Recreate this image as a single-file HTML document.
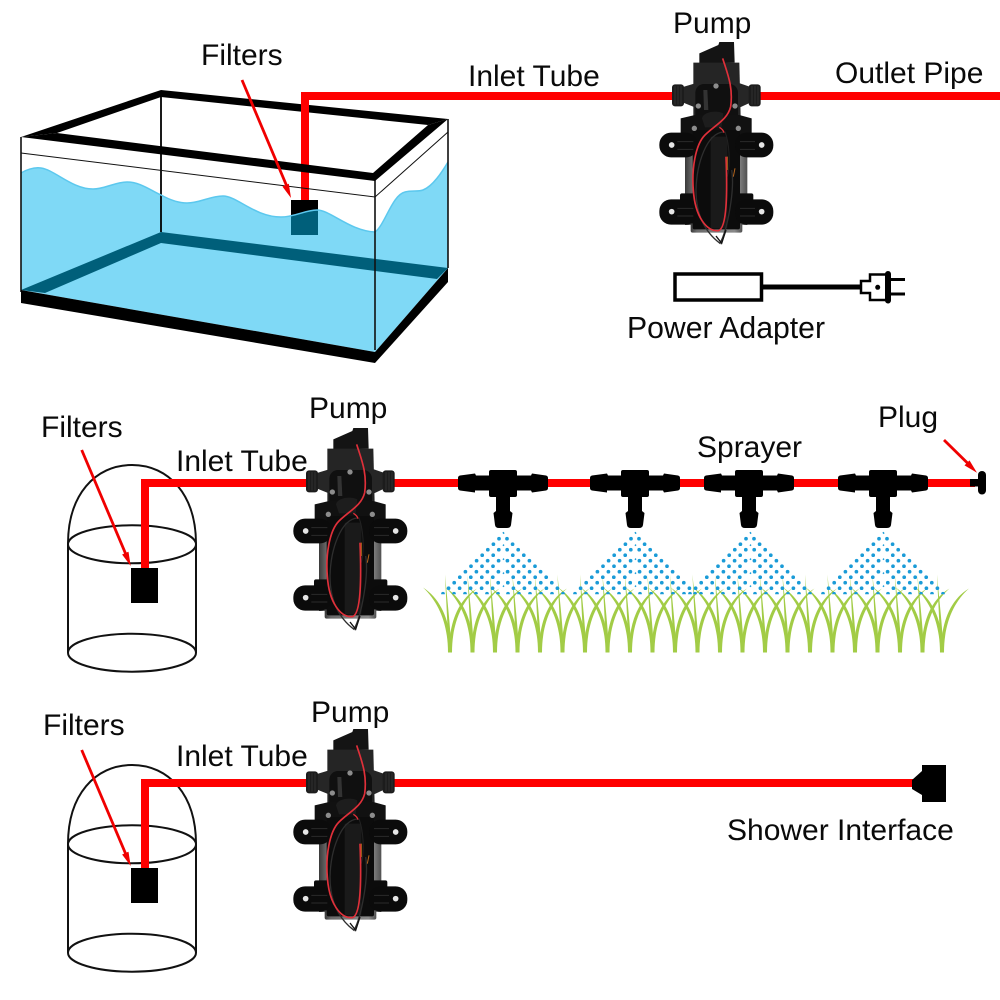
<!DOCTYPE html>
<html><head><meta charset="utf-8"><style>
html,body{margin:0;padding:0;background:#fff}
svg{display:block}
text{font-family:"Liberation Sans",sans-serif;font-size:30px;fill:#0a0a0a}
</style></head><body>
<svg width="1000" height="1000" viewBox="0 0 1000 1000" xmlns="http://www.w3.org/2000/svg">
<defs>
<linearGradient id="cyl" x1="0" x2="1" y1="0" y2="0"><stop offset="0" stop-color="#3a3a3a"/><stop offset=".12" stop-color="#6a6a6a"/><stop offset=".85" stop-color="#8a8a8a"/><stop offset="1" stop-color="#505050"/></linearGradient>
<clipPath id="wc"><path d="M21,173 C28,169 34,167 41,168 C55,170 72,189 93,189 C105,189 115,182 127,182 C140,182 150,190 161,195 C170,200 178,203 187,203 C200,203 210,196 223,196 C237,196 255,217 281,217 C295,217 305,210 317,210 C330,210 350,231 375,232 C385,225 392,195 405,192 C412,190 418,192 423,190 C433,186 442,172 448,162 L448,268 L375,352 L21,290 Z"/></clipPath>
<clipPath id="sc"><rect x="-70" y="-20" width="140" height="75.5"/></clipPath>
<g id="pump" transform="translate(640,30) scale(.33333)">
<rect x="135" y="375" width="187" height="210" fill="url(#cyl)"/>
<rect x="152" y="570" width="155" height="38" rx="6" fill="url(#cyl)"/>
<polygon points="178,70 235,45 238,36 282,36 284,98 178,102" fill="#141414"/>
<polygon points="160,98 298,98 302,262 160,262" fill="#252525"/>
<polygon points="125,172 165,160 300,160 335,172 335,216 300,232 165,232 125,216" fill="#262626"/>
<rect x="96" y="163" width="36" height="66" rx="9" fill="#1c1c1c"/>
<rect x="326" y="163" width="36" height="66" rx="9" fill="#1c1c1c"/>
<path d="M105,168V224M114,168V224M123,168V224M336,168V224M345,168V224M354,168V224" stroke="#3c3c3c" stroke-width="2"/>
<rect x="166" y="162" width="128" height="125" rx="26" fill="#101010"/>
<polygon points="122,265 165,255 298,255 335,265 335,335 122,335" fill="#111"/>
<rect x="158" y="300" width="142" height="298" rx="6" fill="#0c0c0c"/>
<rect x="212" y="320" width="50" height="275" rx="4" fill="#1a1a1a"/>
<rect x="120" y="490" width="50" height="90" rx="6" fill="#0c0c0c"/>
<rect x="290" y="490" width="50" height="90" rx="6" fill="#0c0c0c"/>
<rect x="58" y="308" width="115" height="74" rx="35" fill="#0b0b0b"/>
<rect x="285" y="308" width="115" height="74" rx="35" fill="#0b0b0b"/>
<rect x="58" y="508" width="115" height="76" rx="35" fill="#0b0b0b"/>
<rect x="285" y="508" width="115" height="76" rx="35" fill="#0b0b0b"/>
<path d="M112,335H160M112,358H160M300,335H345M300,358H345M112,535H160M112,558H160M300,535H345M300,558H345" stroke="#2b2b2b" stroke-width="3"/>
<g fill="#e6e6e6"><circle cx="95" cy="345" r="8.500"/><circle cx="365" cy="345" r="8.500"/><circle cx="95" cy="545" r="8.500"/><circle cx="365" cy="545" r="8.500"/></g>
<g fill="#8d8d8d"><circle cx="228" cy="168" r="8"/><circle cx="175" cy="228" r="8"/><circle cx="285" cy="228" r="8"/><circle cx="163" cy="295" r="8"/><circle cx="295" cy="295" r="8"/></g>
<path d="M190,180 L202,180 L205,240 L192,240Z" fill="#333"/>
<path d="M186,265 C190,245 230,240 250,250 L245,292 L195,292Z" fill="#1d1d1d"/>
<path d="M250,306 C200,310 170,400 168,480 C168,560 200,610 240,640 C262,600 285,480 275,420" fill="none" stroke="#2e2e2e" stroke-width="4"/>
<path d="M255,305 C268,340 272,400 262,440" fill="none" stroke="#222" stroke-width="3"/>
<path d="M248,85 C262,130 280,170 272,230 C262,270 225,285 195,315 C165,345 155,420 160,480 C165,560 200,605 235,602 C262,595 262,480 258,380" fill="none" stroke="#e0303a" stroke-width="5"/>
<path d="M238,292 C245,296 250,300 252,308" fill="none" stroke="#e0303a" stroke-width="4"/>
<path d="M262,380 L262,420 M285,415 L280,440" stroke="#b5651d" stroke-width="3"/>
<path d="M228,618 L245,640 L258,600" fill="none" stroke="#111" stroke-width="4"/>
</g>
<g id="tee">
<path fill="#000" d="M-45,-5 Q-45,-7 -43,-7.500 L-28,-9.500 L-27,-7.500 H-14 V-11 Q-14,-13 -12,-13 H12 Q14,-13 14,-11 V-7.500 H28 L29,-9.500 L43,-7.500 Q45,-7 45,-5 V5 Q45,7 43,7.500 L29,9.500 L28,7.500 H14 V12 Q14,14 12,14 H7 V28 L9.500,30 L8,42 Q7.500,45 4,45 H-4 Q-7.500,45 -8,42 L-9.500,30 L-7,28 V14 H-12 Q-14,14 -14,12 V7.500 H-28 L-28,9.500 L-43,7.500 Q-45,7 -45,5 Z"/>
</g>
<g id="halfspray" fill="none" stroke="#1a9bd7" stroke-width="3.700" stroke-linecap="round">
<path d="M-4,0h.01M-9.600,5.500h.01M-15.200,11h.01M-4.200,11h.01M-20.800,16.500h.01M-9.800,16.500h.01M-26.400,22h.01M-15.400,22h.01M-4.400,22h.01M-32,27.500h.01M-21,27.500h.01M-10,27.500h.01M-37.600,33h.01M-26.600,33h.01M-15.600,33h.01M-4.600,33h.01M-43.200,38.500h.01M-32.200,38.500h.01M-21.200,38.500h.01M-10.200,38.500h.01M-48.800,44h.01M-37.800,44h.01M-26.800,44h.01M-15.800,44h.01M-4.800,44h.01M-54.400,49.500h.01M-43.400,49.500h.01M-32.400,49.500h.01M-21.400,49.500h.01M-10.400,49.500h.01M-60,55h.01M-49,55h.01M-38,55h.01M-27,55h.01M-16,55h.01M-5,55h.01"/>
</g>
<g id="spray"><g clip-path="url(#sc)"><use href="#halfspray"/><use href="#halfspray" transform="scale(-1,1)"/><path d="M0,-6.500l1,1.500M0,6l1,1M0,20l1,1M0,34l1,1M0,47l1,1" stroke="#1a9bd7" stroke-width="1.500"/></g></g>
<g id="clump" fill="#a2cc46">
<path d="M-1.500,0 C-2.500,-30 -4,-55 -5,-78 C-2.500,-50 .5,-25 1.500,0Z"/>
<path d="M-1,0 C-1,-28 7,-52 27,-64 C11,-50 2,-28 2,0Z"/>
<path d="M1,0 C1,-28 -7,-52 -27,-65 C-11,-50 -2,-28 -2,0Z"/>
</g>
<g id="bell" fill="none" stroke="#111" stroke-width="2">
<path d="M68,544 V653 M196,544 V653"/>
<path d="M68,544 C68,495 95,465 132,465 C169,465 196,495 196,544"/>
<ellipse cx="132" cy="544.300" rx="64" ry="19"/>
<ellipse cx="132" cy="652.700" rx="64" ry="19"/>
</g>
<g id="farrow" fill="#f00000">
<path d="M81.700,450 L127,557" stroke="#f00000" stroke-width="2.800"/>
<polygon points="130.700,566 128.500,551.700 122.100,554.500"/>
</g>
</defs>

<!-- Tank -->
<path d="M21,173 C28,169 34,167 41,168 C55,170 72,189 93,189 C105,189 115,182 127,182 C140,182 150,190 161,195 C170,200 178,203 187,203 C200,203 210,196 223,196 C237,196 255,217 281,217 C295,217 305,210 317,210 C330,210 350,231 375,232 C385,225 392,195 405,192 C412,190 418,192 423,190 C433,186 442,172 448,162 L448,268 L375,352 L21,290 Z" fill="#7fd9f6"/>
<polygon points="21,290 161,232 448,268 437,279 161,243 45,293" fill="#005f7a"/>
<path d="M161,92V232" stroke="#000" stroke-width="1.800"/>
<polygon points="21,137 161,90 448,119 428,125 161,97 57,133" fill="#000"/>
<rect x="301" y="92" width="8" height="108" fill="#f00"/>
<rect x="301" y="92" width="699" height="8" fill="#f00"/>
<rect x="291" y="200" width="27" height="35" fill="#000"/>
<rect x="291" y="200" width="27" height="35" fill="#005f7a" clip-path="url(#wc)"/>
<path d="M21,173 C28,169 34,167 41,168 C55,170 72,189 93,189 C105,189 115,182 127,182 C140,182 150,190 161,195 C170,200 178,203 187,203 C200,203 210,196 223,196 C237,196 255,217 281,217 C295,217 305,210 317,210 C330,210 350,231 375,232 C385,225 392,195 405,192 C412,190 418,192 423,190 C433,186 442,172 448,162" fill="none" stroke="#5cc8ee" stroke-width="1.500"/>
<path d="M21,153 L375,197 L448,132" fill="none" stroke="#111" stroke-width="1"/>
<path d="M21,137V292M375,180V350M448,119V268" stroke="#111" stroke-width="1.600"/>
<polygon points="21,137 57,133 373,173 428,125 448,119 375,181" fill="#000"/>
<polygon points="21,290 375,352 448,268 448,282 375,363 21,303" fill="#000"/>
<path d="M242,80 L288,189" stroke="#f00000" stroke-width="2.800"/>
<polygon points="291,198 288.800,183.700 282.400,186.500" fill="#f00000"/>

<use href="#pump"/>

<!-- Adapter -->
<rect x="675" y="274" width="86.500" height="26" fill="#fff" stroke="#000" stroke-width="3.500"/>
<rect x="763" y="284.500" width="98" height="5" fill="#000"/>
<polygon points="861,281 870,281 870,274.500 887,274.500 887,300 870,300 870,293 861,293" fill="#fff" stroke="#000" stroke-width="2.500"/>
<rect x="885" y="271" width="6" height="32.500" rx="3" fill="#000"/>
<rect x="890" y="278" width="15" height="3" fill="#000"/>
<rect x="890" y="292.500" width="15" height="3" fill="#000"/>
<circle cx="877.700" cy="287.300" r="2.500" fill="#000"/>

<!-- Row 2 -->
<use href="#bell"/>
<rect x="141" y="479" width="8" height="89" fill="#f00"/>
<rect x="141" y="479" width="170" height="8" fill="#f00"/>
<rect x="385" y="479" width="590" height="8" fill="#f00"/>
<rect x="131" y="568" width="27" height="35" fill="#000"/>
<use href="#farrow"/>
<use href="#pump" transform="translate(-366,386)"/>

<g>
<use href="#clump" x="450" y="652.500"/><use href="#clump" x="472.500" y="652.500"/><use href="#clump" x="495" y="652.500"/><use href="#clump" x="517.500" y="652.500"/><use href="#clump" x="540" y="652.500"/><use href="#clump" x="562.500" y="652.500"/><use href="#clump" x="585" y="652.500"/><use href="#clump" x="607.500" y="652.500"/><use href="#clump" x="630" y="652.500"/><use href="#clump" x="652.500" y="652.500"/><use href="#clump" x="675" y="652.500"/><use href="#clump" x="697.500" y="652.500"/><use href="#clump" x="720" y="652.500"/><use href="#clump" x="742.500" y="652.500"/><use href="#clump" x="765" y="652.500"/><use href="#clump" x="787.500" y="652.500"/><use href="#clump" x="810" y="652.500"/><use href="#clump" x="832.500" y="652.500"/><use href="#clump" x="855" y="652.500"/><use href="#clump" x="877.500" y="652.500"/><use href="#clump" x="900" y="652.500"/><use href="#clump" x="922.500" y="652.500"/><use href="#clump" x="942" y="652.500"/>
</g>
<use href="#spray" transform="translate(503,538.700)"/>
<use href="#spray" transform="translate(635,538.700)"/>
<use href="#spray" transform="translate(750,538.700)"/>
<use href="#spray" transform="translate(883,538.700)"/>
<use href="#tee" transform="translate(503,483)"/>
<use href="#tee" transform="translate(635,483)"/>
<use href="#tee" transform="translate(749,483)"/>
<use href="#tee" transform="translate(883,483)"/>
<rect x="970" y="479" width="9" height="7.500" fill="#000"/>
<rect x="978" y="471" width="8" height="23.500" rx="4" fill="#000"/>
<path d="M944,440 L970,465.500" stroke="#f00000" stroke-width="2.800"/>
<polygon points="977,472.700 969.500,460.400 964.500,465.400" fill="#f00000"/>

<!-- Row 3 -->
<use href="#bell" transform="translate(0,300)"/>
<rect x="141" y="779" width="8" height="89" fill="#f00"/>
<rect x="141" y="779" width="170" height="8" fill="#f00"/>
<rect x="385" y="779" width="530" height="8" fill="#f00"/>
<rect x="131" y="868" width="27" height="35" fill="#000"/>
<use href="#farrow" transform="translate(0,300)"/>
<use href="#pump" transform="translate(-366,687)"/>
<polygon points="912,780 922,771 922,765 946,765 946,802 922,802 922,795 912,789" fill="#000"/>

<!-- Labels -->
<text x="673" y="33">Pump</text>
<text x="201" y="65">Filters</text>
<text x="468" y="86">Inlet Tube</text>
<text x="835" y="83">Outlet Pipe</text>
<text x="627" y="338" style="font-size:30.2px">Power Adapter</text>
<text x="41" y="437">Filters</text>
<text x="176" y="471">Inlet Tube</text>
<text x="309" y="418">Pump</text>
<text x="697" y="457">Sprayer</text>
<text x="878" y="427">Plug</text>
<text x="43" y="735">Filters</text>
<text x="176" y="766">Inlet Tube</text>
<text x="311" y="722">Pump</text>
<text x="727" y="840">Shower Interface</text>
</svg>
</body></html>
